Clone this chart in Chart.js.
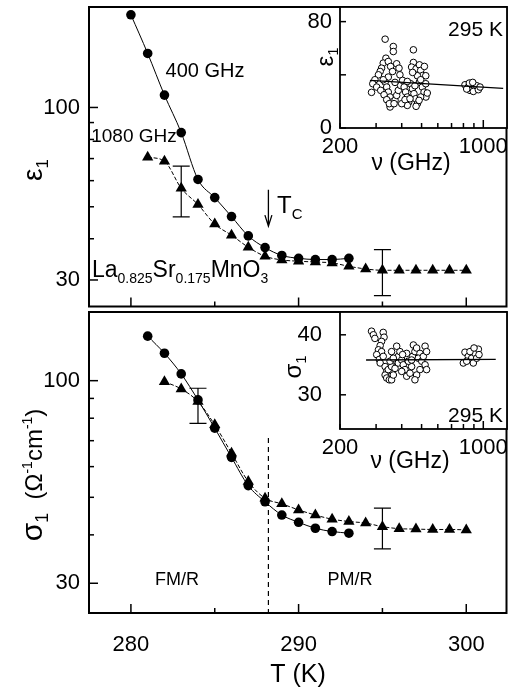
<!DOCTYPE html>
<html>
<head>
<meta charset="utf-8">
<title>La0.825Sr0.175MnO3 - eps1 and sigma1 vs T</title>
<script src="https://cdn.jsdelivr.net/npm/chart.js@4.4.1/dist/chart.umd.min.js"></script>
<style>
  body { margin: 0; background: #fff; }
  #wrap { position: relative; width: 513px; height: 691px; overflow: hidden; }
  canvas { position: absolute; }
</style>
</head>
<body>
<div id="wrap">
  <canvas id="mainTop" width="513" height="313" style="left:0;top:0"></canvas>
  <canvas id="mainBot" width="513" height="391" style="left:0;top:300px"></canvas>
  <canvas id="insTop" width="223" height="180" style="left:290px;top:0"></canvas>
  <canvas id="insBot" width="263" height="180" style="left:250px;top:300px"></canvas>
</div>
<script>
// ---- main panels (T in K) ----
const tempCircEps = [280, 281, 282, 283, 284, 285, 286, 287, 288, 289, 290, 291, 292, 293];
const eps400 = [190.9, 145.8, 109.0, 83.9, 60.5, 53.3, 46.7, 40.8, 37.6, 35.6, 34.9, 34.6, 34.6, 34.9];
const tempTriEps = [281, 282, 283, 284, 285, 286, 287, 288, 289, 290, 291, 292, 293, 294, 295, 296, 297, 298, 299, 300];
const eps1080 = [70.7, 68.7, 56.9, 50.8, 44.3, 41.0, 37.7, 35.4, 34.5, 34.2, 34.0, 33.8, 33.0, 32.4, 32.1, 32.1, 32.1, 32.1, 32.1, 32.1];

const tempCircSig = [281, 282, 283, 284, 285, 286, 287, 288, 289, 290, 291, 292, 293];
const sig400 = [130.3, 117.7, 104.1, 89.2, 75.4, 63.4, 53.6, 48.7, 45.0, 43.1, 41.6, 40.8, 40.4];
const tempTriSig = [282, 283, 284, 285, 286, 287, 288, 289, 290, 291, 292, 293, 294, 295, 296, 297, 298, 299, 300];
const sig1080 = [99.4, 95.2, 88.3, 76.9, 65.0, 54.9, 49.7, 48.1, 46.4, 45.0, 43.9, 43.3, 42.9, 42.0, 41.5, 41.4, 41.3, 41.3, 41.2];

// error bars
const errTempEps = [283, 295];
const errLoEps = [46.6, 26.9];
const errHiEps = [66.4, 37.1];
const errTempSig = [284, 295];
const errLoSig = [77.6, 36.8];
const errHiSig = [95.6, 46.9];

// Tc marker
const tcTemp = 288.2;
const tcArrowEps = [56.3, 43.7];
const tcLineSig = [71.1, 20];

// ticks
const tempTicks = [280, 285, 290, 295, 300];
const tempLabels = [280, 290, 300];
const logTicks = [30, 40, 50, 60, 70, 80, 90, 100];
const logLabels = [30, 100];

// ---- insets, 295 K ----
const nuEps = [332, 364, 364, 456, 335, 325, 319, 314, 308, 296, 289, 285, 344, 353, 361, 378, 388, 392, 344, 332,
  338, 344, 351, 357, 351, 371, 378, 385, 395, 404, 411, 418, 426, 433, 426, 442, 451, 459, 468, 477,
  456, 447, 470, 488, 495, 516, 506, 524, 477, 452, 488, 504, 514, 525, 533, 495, 486, 495, 524, 302,
  316, 328, 338, 348, 367, 400, 415, 439, 470, 325, 371, 426, 464,
  814, 845, 878, 911, 861, 928, 830, 894, 946, 964, 855, 888];
const epsRT = [66.8, 61.3, 57.5, 58.8, 52.5, 48.8, 45.0, 42.5, 40.0, 36.3, 33.3, 26.8, 50.0, 46.3, 42.5, 48.3, 45.0, 40.0, 38.3, 34.5,
  30.8, 27.0, 23.3, 19.5, 15.8, 20.8, 24.5, 28.3, 32.0, 35.8, 30.8, 27.0, 23.3, 19.5, 17.0, 33.3, 29.5, 25.8, 22.0, 18.3,
  49.3, 45.8, 44.5, 47.5, 43.3, 46.3, 39.5, 39.3, 39.3, 41.8, 34.5, 30.8, 27.0, 23.3, 26.3, 23.3, 20.8, 36.3, 33.3, 30.8,
  28.3, 25.0, 21.3, 18.3, 18.3, 18.3, 21.3, 22.0, 16.3, 36.3, 34.3, 35.0, 31.8,
  32.5, 30.8, 32.5, 30.0, 28.3, 31.8, 29.3, 27.5, 28.8, 30.8, 33.8, 34.3];
const fitNuEps = [280, 1250];
const fitEps = [35.8, 29.8];

const nuSig = [285, 291, 296, 325, 328, 319, 314, 308, 319, 302, 311, 325, 314, 332, 338, 332, 338, 348, 357, 364,
  344, 357, 371, 378, 385, 392, 378, 385, 400, 407, 415, 400, 423, 439, 447, 431, 452, 464, 456, 473,
  491, 482, 501, 510, 520, 529, 520, 529, 491, 473, 464, 447, 423, 404, 351, 364, 357,
  814, 845, 878, 911, 946, 894, 799, 830, 928, 861, 953, 901];
const sigRT = [40.6, 40.0, 39.4, 40.4, 39.6, 38.9, 38.2, 37.5, 37.2, 36.7, 35.9, 36.4, 35.3, 34.7, 33.9, 33.3, 32.8, 32.5, 32.5, 33.3,
  34.2, 34.7, 34.4, 35.6, 36.4, 37.2, 38.1, 35.3, 35.8, 35.0, 34.2, 33.9, 33.1, 33.6, 34.7, 35.6, 36.4, 37.2, 38.3, 37.8,
  36.9, 36.1, 35.6, 36.4, 38.1, 37.2, 35.0, 34.2, 34.2, 33.3, 32.5, 35.8, 36.9, 36.7, 35.6, 36.1, 37.2,
  37.1, 36.4, 36.1, 36.9, 37.6, 35.3, 35.3, 35.6, 36.1, 37.2, 36.7, 37.8];
const fitNuSig = [268, 1150];
const fitSig = [35.8, 35.9];

const nuTicks = [200, 300, 400, 500, 600, 700, 800, 900, 1000];
const nuLabels = [200, 1000];
const insEpsTicks = [0, 40, 80];
const insEpsLabels = [0, 80];
const insSigTicks = [30, 40];

const FONT = '"Liberation Sans", Arial, Helvetica, sans-serif';
Chart.defaults.font.family = FONT;
Chart.defaults.color = '#000';

function pts(xs, ys) {
  return xs.map((x, i) => ({ x: x, y: ys[i] }));
}

// text with sub/superscripts: parts = [text, size, dy]
function drawRich(ctx, parts, x, y, align, rot) {
  ctx.save();
  ctx.translate(x, y);
  if (rot) ctx.rotate(rot);
  ctx.fillStyle = '#000';
  ctx.textBaseline = 'alphabetic';
  ctx.textAlign = 'left';
  let w = 0;
  parts.forEach(p => { ctx.font = p[1] + 'px ' + FONT; w += ctx.measureText(p[0]).width; });
  let cx = align === 'left' ? 0 : (align === 'right' ? -w : -w / 2);
  parts.forEach(p => {
    ctx.font = p[1] + 'px ' + FONT;
    ctx.fillText(p[0], cx, p[2] || 0);
    cx += ctx.measureText(p[0]).width;
  });
  ctx.restore();
}

function errBars(chart, ts, lo, hi) {
  const ctx = chart.ctx, sx = chart.scales.x, sy = chart.scales.y;
  ctx.save();
  ctx.strokeStyle = '#000';
  ctx.lineWidth = 1.2;
  ts.forEach((t, i) => {
    const px = sx.getPixelForValue(t), a = sy.getPixelForValue(lo[i]), b = sy.getPixelForValue(hi[i]);
    ctx.beginPath();
    ctx.moveTo(px, a); ctx.lineTo(px, b);
    ctx.moveTo(px - 8.5, a); ctx.lineTo(px + 8.5, a);
    ctx.moveTo(px - 8.5, b); ctx.lineTo(px + 8.5, b);
    ctx.stroke();
  });
  ctx.restore();
}

// frame, inward ticks, notes
function deco(id, o) {
  return {
    id: id,
    beforeDraw(chart) {
      if (!o.fill) return;
      const a = chart.chartArea, ctx = chart.ctx;
      ctx.save();
      ctx.fillStyle = '#fff';
      ctx.fillRect(a.left, a.top, a.right - a.left, a.bottom - a.top);
      ctx.restore();
    },
    beforeDatasetsDraw(chart) {
      (o.notes || []).forEach(n => drawRich(chart.ctx, n.parts, n.x, n.y, n.align, n.rot));
    },
    afterDatasetsDraw(chart) {
      if (o.err) errBars(chart, o.err[0], o.err[1], o.err[2]);
      if (o.after) o.after(chart);
    },
    afterDraw(chart) {
      const ctx = chart.ctx, a = chart.chartArea;
      ctx.save();
      ctx.strokeStyle = '#000';
      ctx.lineWidth = o.tickW || 1.5;
      (o.yTicks || []).forEach(t => {
        const p = chart.scales.y.getPixelForValue(t[0]);
        ctx.beginPath(); ctx.moveTo(a.left, p); ctx.lineTo(a.left + t[1], p); ctx.stroke();
      });
      (o.xTicks || []).forEach(t => {
        const p = chart.scales.x.getPixelForValue(t[0]);
        ctx.beginPath(); ctx.moveTo(p, a.bottom); ctx.lineTo(p, a.bottom - t[1]); ctx.stroke();
      });
      ctx.lineWidth = o.frameW || 2;
      ctx.strokeRect(a.left, a.top, a.right - a.left, a.bottom - a.top);
      ctx.restore();
    }
  };
}

function seriesSet(xs, ys, style, r, dash) {
  return {
    data: pts(xs, ys),
    borderColor: '#000',
    borderWidth: 1,
    borderDash: dash || [],
    pointStyle: style,
    pointRadius: r,
    pointBackgroundColor: '#000',
    pointBorderColor: '#000',
    pointBorderWidth: 0,
    cubicInterpolationMode: 'monotone'
  };
}

function logAxis(min, max, width) {
  return {
    type: 'logarithmic', min: min, max: max,
    afterBuildTicks: s => { s.ticks = logTicks.map(v => ({ value: v })); },
    afterFit: s => { s.width = width; s.paddingTop = 0; s.paddingBottom = 0; },
    grid: { display: false, drawTicks: false },
    border: { display: false },
    ticks: { padding: 9, font: { size: 22 }, autoSkip: false,
      callback: v => logLabels.includes(v) ? String(v) : '' }
  };
}

const tempMarks = tempTicks.map(v => [v, tempLabels.includes(v) ? 9 : 5]);
const logMarks = logTicks.map(v => [v, logLabels.includes(v) ? 9 : 5]);
const baseOpts = { responsive: false, animation: false, events: [], devicePixelRatio: 1 };

// ---- top panel: eps1 ----
new Chart(document.getElementById('mainTop'), {
  type: 'line',
  data: { datasets: [
    seriesSet(tempCircEps, eps400, 'circle', 4.8),
    seriesSet(tempTriEps, eps1080, 'triangle', 6.5, [4, 2])
  ] },
  options: Object.assign({}, baseOpts, {
    layout: { padding: { left: 0, top: 7, right: 6, bottom: 1 } },
    plugins: { legend: { display: false }, tooltip: { enabled: false } },
    scales: {
      x: { type: 'linear', min: 277.5, max: 302.4, display: false },
      y: logAxis(24.93, 201.6, 89)
    }
  }),
  plugins: [deco('decoTop', {
    yTicks: logMarks, xTicks: tempMarks,
    err: [errTempEps, errLoEps, errHiEps],
    notes: [
      { parts: [['400 GHz', 20]], x: 205, y: 77 },
      { parts: [['1080 GHz', 19]], x: 134, y: 142 },
      { parts: [['T', 24], ['C', 15, 6]], x: 277, y: 213, align: 'left' },
      { parts: [['La', 23], ['0.825', 14, 6], ['Sr', 23], ['0.175', 14, 6], ['MnO', 23], ['3', 14, 6]], x: 92, y: 277, align: 'left' },
      { parts: [['\u03b5', 28], ['1', 17, 6]], x: 42, y: 170, rot: -Math.PI / 2 }
    ],
    after(chart) {
      const ctx = chart.ctx;
      const px = chart.scales.x.getPixelForValue(tcTemp);
      const y0 = chart.scales.y.getPixelForValue(tcArrowEps[0]);
      const y1 = chart.scales.y.getPixelForValue(tcArrowEps[1]);
      ctx.save();
      ctx.strokeStyle = '#000';
      ctx.lineWidth = 1.3;
      ctx.beginPath();
      ctx.moveTo(px, y0); ctx.lineTo(px, y1);
      ctx.moveTo(px - 3.5, y1 - 11); ctx.lineTo(px, y1); ctx.lineTo(px + 3.5, y1 - 11);
      ctx.stroke();
      ctx.restore();
    }
  })]
});

// ---- bottom panel: sigma1 ----
new Chart(document.getElementById('mainBot'), {
  type: 'line',
  data: { datasets: [
    seriesSet(tempCircSig, sig400, 'circle', 4.8),
    seriesSet(tempTriSig, sig1080, 'triangle', 6.5, [4, 2]),
    { data: pts([tcTemp, tcTemp], tcLineSig), borderColor: '#000', borderWidth: 1.2, borderDash: [5, 4], pointRadius: 0, tension: 0 }
  ] },
  options: Object.assign({}, baseOpts, {
    layout: { padding: { left: 0, top: 12, right: 6, bottom: 0 } },
    plugins: { legend: { display: false }, tooltip: { enabled: false } },
    scales: {
      x: {
        type: 'linear', min: 277.5, max: 302.4,
        afterBuildTicks: s => { s.ticks = tempTicks.map(v => ({ value: v })); },
        afterFit: s => { s.height = 78; s.paddingLeft = 0; s.paddingRight = 0; },
        grid: { display: false, drawTicks: false },
        border: { display: false },
        ticks: { padding: 19, font: { size: 22 }, autoSkip: false, maxRotation: 0,
          callback: v => tempLabels.includes(v) ? String(v) : '' }
      },
      y: logAxis(25.14, 150.4, 89)
    }
  }),
  plugins: [deco('decoBot', {
    yTicks: logMarks, xTicks: tempMarks,
    err: [errTempSig, errLoSig, errHiSig],
    notes: [
      { parts: [['FM/R', 18]], x: 177, y: 285 },
      { parts: [['PM/R', 18]], x: 350, y: 285 },
      { parts: [['T (K)', 25]], x: 298, y: 382 },
      { parts: [['\u03c3', 30], ['1', 18, 6], ['  (', 24], ['\u03a9', 24], ['-1', 14, -10], ['cm', 24], ['-1', 14, -10], [')', 24]],
        x: 42, y: 175, rot: -Math.PI / 2 }
    ]
  })]
});

// ---- insets ----
function insetChart(id, nu, vals, fitNu, fitVals, yMin, yMax, yTicks, yLabels, yPad, yWidth, xHeight, padTop, notes) {
  return new Chart(document.getElementById(id), {
    type: 'scatter',
    data: { datasets: [
      { type: 'line', data: pts(fitNu, fitVals), borderColor: '#000', borderWidth: 1.4, pointRadius: 0, tension: 0 },
      { data: pts(nu, vals), pointStyle: 'circle', pointRadius: 3.3, pointBorderWidth: 1,
        pointBorderColor: '#000', pointBackgroundColor: '#fff', showLine: false }
    ] },
    options: Object.assign({}, baseOpts, {
      layout: { padding: { left: 0, top: padTop, right: 6, bottom: 0 } },
      plugins: { legend: { display: false }, tooltip: { enabled: false } },
      scales: {
        x: {
          type: 'logarithmic', min: 200, max: 1305,
          afterBuildTicks: s => { s.ticks = nuTicks.map(v => ({ value: v })); },
          afterFit: s => { s.height = xHeight; s.paddingLeft = 0; s.paddingRight = 0; },
          grid: { display: false, drawTicks: false },
          border: { display: false },
          ticks: { padding: 6, font: { size: 22 }, autoSkip: false, maxRotation: 0,
            callback: v => nuLabels.includes(v) ? String(v) : '' }
        },
        y: {
          type: 'linear', min: yMin, max: yMax,
          afterBuildTicks: s => { s.ticks = yTicks.map(v => ({ value: v })); },
          afterFit: s => { s.width = yWidth; s.paddingTop = 0; s.paddingBottom = 0; },
          grid: { display: false, drawTicks: false },
          border: { display: false },
          ticks: { padding: yPad, font: { size: 22 }, autoSkip: false,
            callback: v => yLabels.includes(v) ? String(v) : '' }
        }
      }
    }),
    plugins: [deco(id + 'Deco', {
      fill: true, frameW: 1.8,
      yTicks: yTicks.map(v => [v, 6]),
      xTicks: nuTicks.map(v => [v, v === 1000 ? 8 : 5]),
      notes: notes
    })]
  });
}

insetChart('insTop', nuEps, epsRT, fitNuEps, fitEps, 0, 91.0, insEpsTicks, insEpsLabels, 8, 50, 52, 7, [
  { parts: [['\u03b5', 24], ['1', 15, 5]], x: 43, y: 57, rot: -Math.PI / 2 },
  { parts: [['\u03bd (GHz)', 23]], x: 121, y: 170 },
  { parts: [['295 K', 21]], x: 213, y: 36, align: 'right' }
]);

insetChart('insBot', nuSig, sigRT, fitNuSig, fitSig, 24.3, 43.8, insSigTicks, insSigTicks, 18, 90, 51, 12, [
  { parts: [['\u03c3', 24], ['1', 15, 5]], x: 51, y: 67, rot: -Math.PI / 2 },
  { parts: [['\u03bd (GHz)', 23]], x: 160, y: 168 },
  { parts: [['295 K', 21]], x: 253, y: 122, align: 'right' }
]);
</script>
</body>
</html>
